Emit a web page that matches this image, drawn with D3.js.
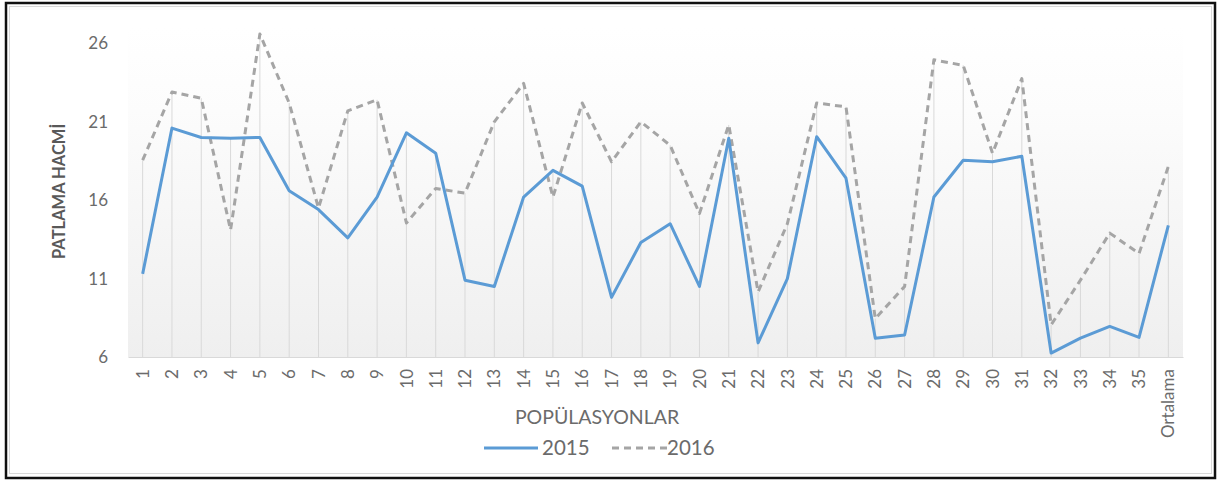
<!DOCTYPE html>
<html>
<head>
<meta charset="utf-8">
<script src="https://cdn.jsdelivr.net/npm/d3@7"></script>
<style>
  html, body { margin: 0; padding: 0; background: #fff; }
  svg { display: block; font-family: Lato, "Open Sans", sans-serif; }
</style>
</head>
<body>
<svg id="chart" width="1218" height="482"></svg>
<script>
// Populations 1–35 plus the overall mean
const categories = ["1","2","3","4","5","6","7","8","9","10","11","12","13","14","15","16","17","18",
  "19","20","21","22","23","24","25","26","27","28","29","30","31","32","33","34","35","Ortalama"];

const values2015 = [11.3, 20.6, 20.0, 19.95, 20.0, 16.6, 15.4, 13.6, 16.2, 20.3, 19.0, 10.9,
  10.5, 16.2, 17.9, 16.9, 9.8, 13.3, 14.5, 10.5, 19.95, 6.9, 11.0, 20.05, 17.4, 7.2,
  7.4, 16.2, 18.55, 18.45, 18.8, 6.25, 7.2, 7.95, 7.25, 14.4];

const values2016 = [18.55, 22.9, 22.5, 14.1, 26.6, 22.2, 15.5, 21.7, 22.4, 14.55, 16.75, 16.45,
  21.0, 23.45, 16.2, 22.2, 18.45, 21.0, 19.5, 15.15, 20.8, 10.15, 14.5, 22.2, 21.95, 8.45,
  10.5, 24.95, 24.6, 19.0, 23.75, 8.05, 10.9, 13.9, 12.6, 18.15];

const yTicks = [6, 11, 16, 21, 26];
const yDomain = [6, 27];

const seriesNames = ["2015", "2016"];

const svg = d3.select("#chart");

// Outer frame and chart-area border
svg.append("rect").attr("x", 6).attr("y", 3).attr("width", 1209).attr("height", 475)
  .attr("fill", "#fff").attr("stroke", "#111").attr("stroke-width", 2.5);
svg.append("rect").attr("x", 9.5).attr("y", 6.5).attr("width", 1202).attr("height", 467)
  .attr("fill", "none").attr("stroke", "#d9d9d9").attr("stroke-width", 1);

const plot = { left: 128, right: 1183, top: 27.7, bottom: 357 };

const x = d3.scaleBand().domain(categories).range([plot.left, plot.right]).padding(0);
const cx = d => x(d) + x.bandwidth() / 2;
const y = d3.scaleLinear().domain(yDomain).range([plot.bottom, plot.top]);

// Plot-area gradient fill
const defs = svg.append("defs");
const grad = defs.append("linearGradient").attr("id", "plotFill")
  .attr("x1", 0).attr("y1", 0).attr("x2", 0).attr("y2", 1);
grad.append("stop").attr("offset", "0%").attr("stop-color", "#ffffff");
grad.append("stop").attr("offset", "25%").attr("stop-color", "#fcfcfc");
grad.append("stop").attr("offset", "100%").attr("stop-color", "#efefef");

svg.append("rect")
  .attr("x", plot.left).attr("y", plot.top)
  .attr("width", plot.right - plot.left).attr("height", plot.bottom - plot.top)
  .attr("fill", "url(#plotFill)");

// Drop lines from the higher point of each category to the axis
const rows = categories.map((c, i) => ({ c, a: values2015[i], b: values2016[i] }));
svg.append("g").selectAll("line").data(rows).join("line")
  .attr("x1", d => cx(d.c)).attr("x2", d => cx(d.c))
  .attr("y1", d => y(Math.max(d.a, d.b))).attr("y2", y(yDomain[0]))
  .attr("stroke", "#d9d9d9").attr("stroke-width", 1);

// Category axis
const xAxis = svg.append("g").attr("transform", `translate(0,${plot.bottom})`)
  .call(d3.axisBottom(x).tickSize(0).tickPadding(0));
xAxis.select(".domain").attr("stroke", "#d9d9d9");
xAxis.selectAll("text")
  .attr("transform", "rotate(-90)")
  .attr("x", -12).attr("y", 0).attr("dy", "0.36em")
  .attr("text-anchor", "end")
  .attr("fill", "#6b6b6b").attr("font-size", 17)
  .attr("font-family", "Lato, sans-serif");

// Value axis
const yAxis = svg.append("g").attr("transform", `translate(${plot.left},0)`)
  .call(d3.axisLeft(y).tickValues(yTicks).tickSize(0).tickPadding(20));
yAxis.select(".domain").remove();
yAxis.selectAll("text")
  .attr("fill", "#6b6b6b").attr("font-size", 17)
  .attr("font-family", "Lato, sans-serif");

// Series lines
const line = vals => d3.line().x((d, i) => cx(categories[i])).y(d => y(d))(vals);

svg.append("path").attr("d", line(values2016))
  .attr("fill", "none").attr("stroke", "#a5a5a5").attr("stroke-width", 3)
  .attr("stroke-dasharray", "7,5").attr("stroke-linejoin", "round");

svg.append("path").attr("d", line(values2015))
  .attr("fill", "none").attr("stroke", "#5b9bd5").attr("stroke-width", 3)
  .attr("stroke-linejoin", "round");

// Axis titles
svg.append("text")
  .attr("transform", `translate(65,${(plot.top + plot.bottom) / 2 - 1}) rotate(-90)`)
  .attr("text-anchor", "middle")
  .attr("font-size", 16.5).attr("font-weight", "bold").attr("fill", "#595959")
  .text("PATLAMA HACMİ");

svg.append("text")
  .attr("x", 597).attr("y", 424)
  .attr("text-anchor", "middle")
  .attr("font-size", 19.5).attr("fill", "#6b6b6b")
  .text("POPÜLASYONLAR");

// Legend
const legend = svg.append("g").attr("transform", "translate(0,448)");
legend.append("line").attr("x1", 484).attr("x2", 538).attr("y1", 0).attr("y2", 0)
  .attr("stroke", "#5b9bd5").attr("stroke-width", 3);
legend.append("text").attr("x", 542).attr("y", 7)
  .attr("font-size", 20.5).attr("fill", "#6b6b6b").text(seriesNames[0]);
legend.append("line").attr("x1", 612).attr("x2", 667).attr("y1", 0).attr("y2", 0)
  .attr("stroke", "#a5a5a5").attr("stroke-width", 3).attr("stroke-dasharray", "7,5");
legend.append("text").attr("x", 667).attr("y", 7)
  .attr("font-size", 20.5).attr("fill", "#6b6b6b").text(seriesNames[1]);
</script>
</body>
</html>
